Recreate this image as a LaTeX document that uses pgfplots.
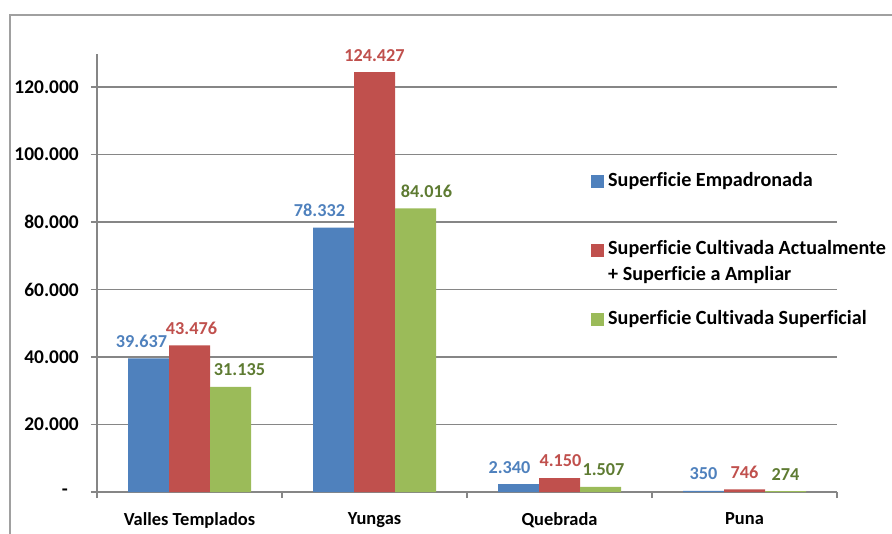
\documentclass[border=0pt]{standalone}
\usepackage{fontspec}
\setmainfont{Carlito}[Ligatures=CommonOff]
\usepackage{pgfplots}
\usepackage{pgfplotstable}
\pgfplotsset{compat=1.18}
\definecolor{barBlue}{HTML}{4F81BD}
\definecolor{barRed}{HTML}{C0504D}
\definecolor{barGreen}{HTML}{9BBB59}
\definecolor{labGreen}{HTML}{5E7B32}
\definecolor{axisgray}{RGB}{134,134,134}
\definecolor{framegray}{RGB}{160,160,160}

% x, valor, etiqueta, corrimiento de la etiqueta
\pgfplotstableread{
x y lab dx
0 39637 39.637 -7
1 78332 78.332 -14
2 2340 2.340 -9
3 350 350 0
}\empadronada
\pgfplotstableread{
x y lab dx
0 43476 43.476 2
1 124427 124.427 0
2 4150 4.150 1
3 746 746 0
}\ampliar
\pgfplotstableread{
x y lab dx
0 31135 31.135 9
1 84016 84.016 11
2 1507 1.507 3
3 274 274 0
}\superficial

\begin{document}
\bfseries\fontsize{18.3}{22}\selectfont
\begin{tikzpicture}[x=1bp,y=1bp]
\useasboundingbox (0,0) rectangle (892,-534);
\draw[framegray, line width=1.2bp] (10,-534) -- (10,-15) -- (892,-15);
\begin{axis}[
  at={(97bp,-492bp)}, anchor=south west, scale only axis,
  width=740bp, height=438bp,
  ybar=0pt, bar width=41bp,
  xmin=-0.5, xmax=3.5, ymin=0, ymax=129800,
  axis x line*=bottom, axis y line*=left,
  axis line style={axisgray, line width=1.6bp},
  xtick={0,1,2,3},
  xticklabels={Valles Templados,Yungas,Quebrada,Puna},
  xticklabel style={font=\bfseries\fontsize{18.5}{22}\selectfont, yshift=-8bp},
  major x tick style={draw=none},
  minor xtick={-0.5,0.5,1.5,2.5,3.5},
  ytick={0,20000,40000,60000,80000,100000,120000},
  yticklabels={{-\rule{11bp}{0pt}},20.000,40.000,60.000,80.000,100.000,120.000},
  yticklabel style={font=\bfseries\fontsize{19.5}{23}\selectfont, xshift=-6bp},
  scaled y ticks=false,
  tick align=outside, major tick length=6bp, minor tick length=6bp,
  tick style={axisgray, line width=1.2bp},
  ymajorgrids, grid style={axisgray, line width=1.2bp},
  point meta=explicit symbolic,
  nodes near coords,
]
\addplot[fill=barBlue, draw=none,
  visualization depends on={\thisrow{dx} \as \dx},
  every node near coord/.append style={text=barBlue, anchor=center, yshift=17bp, xshift=\dx bp}]
  table[x=x, y=y, meta=lab] {\empadronada};
\addplot[fill=barRed, draw=none,
  visualization depends on={\thisrow{dx} \as \dx},
  every node near coord/.append style={text=barRed, anchor=center, yshift=17bp, xshift=\dx bp}]
  table[x=x, y=y, meta=lab] {\ampliar};
\addplot[fill=barGreen, draw=none,
  visualization depends on={\thisrow{dx} \as \dx},
  every node near coord/.append style={text=labGreen, anchor=center, yshift=17bp, xshift=\dx bp}]
  table[x=x, y=y, meta=lab] {\superficial};
\end{axis}
% leyenda
\begin{scope}[font=\bfseries\fontsize{20.2}{24}\selectfont]
\fill[barBlue] (591,-175) rectangle (604,-188);
\node[anchor=west, inner sep=0] at (608,-181) {Superficie Empadronada};
\fill[barRed] (591,-244) rectangle (604,-257);
\node[anchor=west, inner sep=0] at (608,-249) {Superficie Cultivada Actualmente};
\node[anchor=west, inner sep=0] at (608,-275) {+ Superficie a Ampliar};
\fill[barGreen] (591,-313) rectangle (604,-326);
\node[anchor=west, inner sep=0] at (608,-319) {Superficie Cultivada Superficial};
\end{scope}
\end{tikzpicture}
\end{document}
